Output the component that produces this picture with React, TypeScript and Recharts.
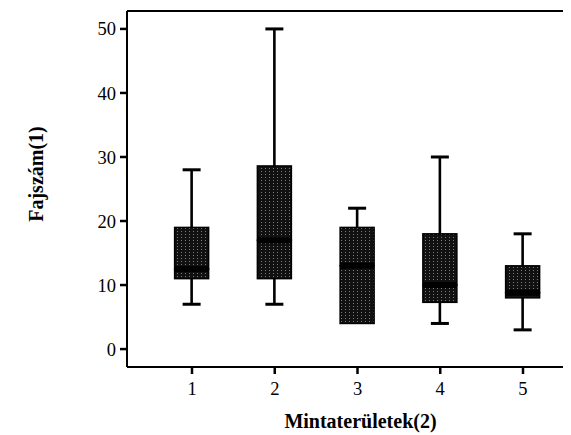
import React from 'react';
import { ComposedChart, Bar, XAxis, YAxis, ReferenceLine } from 'recharts';

const categories = [1, 2, 3, 4, 5];
const mins = [7, 7, 4, 4, 3];
const q1s = [11, 11, 4, 7.3, 8];
const medians = [12.5, 17, 13, 10, 8.8];
const q3s = [19, 28.6, 19, 18, 13];
const maxs = [28, 50, 22, 30, 18];
const yTicks = [0, 10, 20, 30, 40, 50];

const data = categories.map((c, i) => ({
  x: c,
  base: mins[i],
  lowW: q1s[i] - mins[i],
  lowBox: medians[i] - q1s[i],
  highBox: q3s[i] - medians[i],
  highW: maxs[i] - q3s[i],
}));

const FONT = 'Liberation Serif';
const CAP = 18;

const Empty = () => <g />;

const LowWhisker = (p: any) => {
  const { x, y, width, height } = p;
  if (!height) return <g />;
  const cx = x + width / 2;
  return (
    <g>
      <line x1={cx} x2={cx} y1={y} y2={y + height} stroke="#000" strokeWidth={2.6} />
      <line x1={cx - CAP / 2} x2={cx + CAP / 2} y1={y + height} y2={y + height} stroke="#000" strokeWidth={3} />
    </g>
  );
};

const HighWhisker = (p: any) => {
  const { x, y, width, height } = p;
  if (!height) return <g />;
  const cx = x + width / 2;
  return (
    <g>
      <line x1={cx} x2={cx} y1={y} y2={y + height} stroke="#000" strokeWidth={2.6} />
      <line x1={cx - CAP / 2} x2={cx + CAP / 2} y1={y} y2={y} stroke="#000" strokeWidth={3} />
    </g>
  );
};

const LowBox = (p: any) => {
  const { x, y, width, height } = p;
  return <rect x={x} y={y} width={width} height={height} fill="url(#speckle)" stroke="#000" strokeWidth={1.5} />;
};

const HighBox = (p: any) => {
  const { x, y, width, height } = p;
  return (
    <g>
      <rect x={x} y={y} width={width} height={height} fill="url(#speckle)" stroke="#000" strokeWidth={1.5} />
      <line x1={x} x2={x + width} y1={y + height} y2={y + height} stroke="#000" strokeWidth={6} />
    </g>
  );
};

const YLabel = (props: any) => {
  const vb = props.viewBox || { x: 0, y: 0, width: 0, height: 0 };
  const cx = vb.x + 30;
  const cy = vb.y + vb.height / 2 - 15;
  return (
    <text
      x={cx}
      y={cy}
      transform={`rotate(-90 ${cx} ${cy})`}
      textAnchor="middle"
      dominantBaseline="middle"
      style={{ fontFamily: FONT, fontWeight: 'bold', fontSize: 20 }}
      fill="#000"
    >
      Fajszám(1)
    </text>
  );
};

const XLabel = (props: any) => {
  const vb = props.viewBox || { x: 0, y: 0, width: 0, height: 0 };
  const cx = vb.x + vb.width / 2 + 3;
  return (
    <text
      x={cx}
      y={vb.y + 61}
      textAnchor="middle"
      style={{ fontFamily: FONT, fontWeight: 'bold', fontSize: 20 }}
      fill="#000"
    >
      Mintaterületek(2)
    </text>
  );
};

export default function App() {
  return (
    <div style={{ width: 563, height: 427, overflow: 'hidden', fontFamily: FONT }}>
      <ComposedChart
        width={600}
        height={427}
        data={data}
        margin={{ top: 3, right: 20, bottom: 0, left: 0 }}
        style={{ fontFamily: FONT }}
      >
        <defs>
          <pattern id="speckle" width="4" height="3" patternUnits="userSpaceOnUse">
            <rect x="0" y="0" width="4" height="3" fill="#111" />
            <rect x="1" y="1" width="1" height="1" fill="#7a7a7a" />
          </pattern>
        </defs>
        <XAxis
          dataKey="x"
          type="number"
          domain={[0.2145, 5.7855]}
          ticks={categories}
          allowDataOverflow
          height={68}
          tickSize={7}
          tickMargin={8}
          axisLine={{ stroke: '#000', strokeWidth: 2 }}
          tickLine={{ stroke: '#000', strokeWidth: 2.5 }}
          tick={{ fontSize: 18.5, fill: '#000', style: { fontFamily: FONT } }}
          label={<XLabel />}
        />
        <YAxis
          type="number"
          domain={[-2.8, 52.8]}
          ticks={yTicks}
          allowDataOverflow
          width={119}
          tickSize={7}
          tickMargin={4}
          axisLine={{ stroke: '#000', strokeWidth: 2 }}
          tickLine={{ stroke: '#000', strokeWidth: 2.5 }}
          tick={{ fontSize: 18.5, fill: '#000', style: { fontFamily: FONT } }}
          label={<YLabel />}
        />
        <ReferenceLine y={52.8} stroke="#000" strokeWidth={2} />
        <Bar dataKey="base" stackId="b" barSize={34} shape={<Empty />} isAnimationActive={false} />
        <Bar dataKey="lowW" stackId="b" barSize={34} shape={<LowWhisker />} isAnimationActive={false} />
        <Bar dataKey="lowBox" stackId="b" barSize={34} shape={<LowBox />} isAnimationActive={false} />
        <Bar dataKey="highBox" stackId="b" barSize={34} shape={<HighBox />} isAnimationActive={false} />
        <Bar dataKey="highW" stackId="b" barSize={34} shape={<HighWhisker />} isAnimationActive={false} />
      </ComposedChart>
    </div>
  );
}
